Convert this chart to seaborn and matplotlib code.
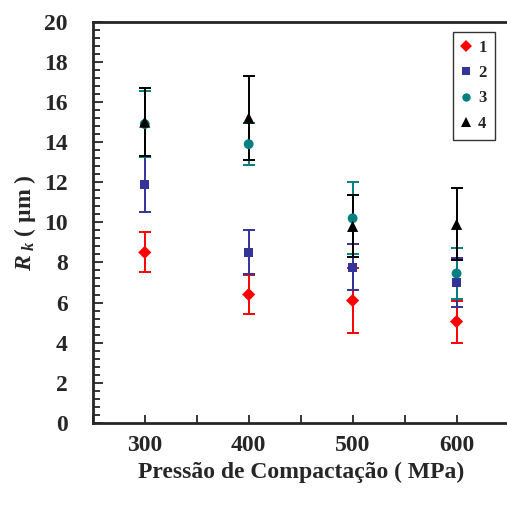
import numpy as np
import pandas as pd
import matplotlib
matplotlib.use("Agg")
import matplotlib.pyplot as plt
from matplotlib.ticker import MultipleLocator
import seaborn as sns

pressure = [300, 400, 500, 600]
series_names = ["1", "2", "3", "4"]
rk_1 = [8.5, 6.4, 6.1, 5.05]
err_1 = [1.0, 0.95, 1.6, 1.05]
rk_2 = [11.9, 8.5, 7.75, 7.0]
err_2 = [1.4, 1.1, 1.15, 1.2]
rk_3 = [14.9, 13.9, 10.2, 7.45]
err_3 = [1.65, 1.05, 1.8, 1.25]
rk_4 = [15.0, 15.2, 9.8, 9.9]
err_4 = [1.7, 2.1, 1.55, 1.8]

colors = ["#ff0000", "#333399", "#008080", "#000000"]
markers = ["D", "s", "o", "^"]
sizes = [45, 45, 50, 65]

sns.set_style("ticks")
plt.rcParams["font.family"] = ["Liberation Serif", "DejaVu Serif"]
plt.rcParams["font.weight"] = "bold"
plt.rcParams["mathtext.fontset"] = "custom"
plt.rcParams["mathtext.it"] = "Liberation Serif:italic:bold"
plt.rcParams["mathtext.rm"] = "Liberation Serif:bold"

rows = []
for name, vals, errs in zip(series_names, [rk_1, rk_2, rk_3, rk_4], [err_1, err_2, err_3, err_4]):
    for p, v, e in zip(pressure, vals, errs):
        rows.append({"pressure": p, "rk": v, "err": e, "serie": name})
df = pd.DataFrame(rows)

fig = plt.figure(figsize=(5.07, 5.07), dpi=100)
ax = fig.add_axes([0.183, 0.166, 0.82, 0.791])

for name, c in zip(series_names, colors):
    d = df[df.serie == name]
    ax.errorbar(d.pressure, d.rk, yerr=d.err, fmt="none", ecolor=c,
                elinewidth=1.4, capsize=4.5, capthick=1.4, zorder=2)

sns.scatterplot(data=df, x="pressure", y="rk", hue="serie", style="serie",
                palette=dict(zip(series_names, colors)),
                markers=dict(zip(series_names, markers)),
                size="serie", sizes=dict(zip(series_names, sizes)),
                edgecolor="none", linewidth=0, ax=ax, zorder=3)

ax.set_xlim(250, 650)
ax.set_ylim(0, 20)
ax.xaxis.set_major_locator(MultipleLocator(100))
ax.xaxis.set_minor_locator(MultipleLocator(50))
ax.yaxis.set_major_locator(MultipleLocator(2))
ax.yaxis.set_minor_locator(MultipleLocator(0.4))
ax.tick_params(axis="both", which="both", direction="in", width=1.3, labelsize=17)
ax.tick_params(axis="y", which="major", length=7, pad=18)
ax.tick_params(axis="y", which="minor", length=5)
ax.tick_params(axis="x", which="both", length=6)
ax.tick_params(axis="x", pad=9)
for s in ["left", "bottom", "top"]:
    ax.spines[s].set_linewidth(2)
ax.spines["right"].set_visible(False)

ax.set_xlabel("Pressão de Compactação ( MPa)", fontsize=17, fontweight="bold", labelpad=4)
ax.set_ylabel(r"$R_{\ k}$ ( µm )", fontsize=17, fontweight="bold", labelpad=4)

handles, labels = ax.get_legend_handles_labels()
leg = ax.legend(handles[-4:], labels[-4:], loc="upper left", bbox_to_anchor=(0.867, 0.975),
                frameon=True, fancybox=False, edgecolor="black", fontsize=12,
                handlelength=0.5, handletextpad=0.5, borderpad=0.5, labelspacing=0.55,
                borderaxespad=0, markerscale=0.85)
leg.get_frame().set_linewidth(1)
for t in leg.get_texts():
    t.set_fontweight("bold")

fig.savefig("out.png", dpi=100)
